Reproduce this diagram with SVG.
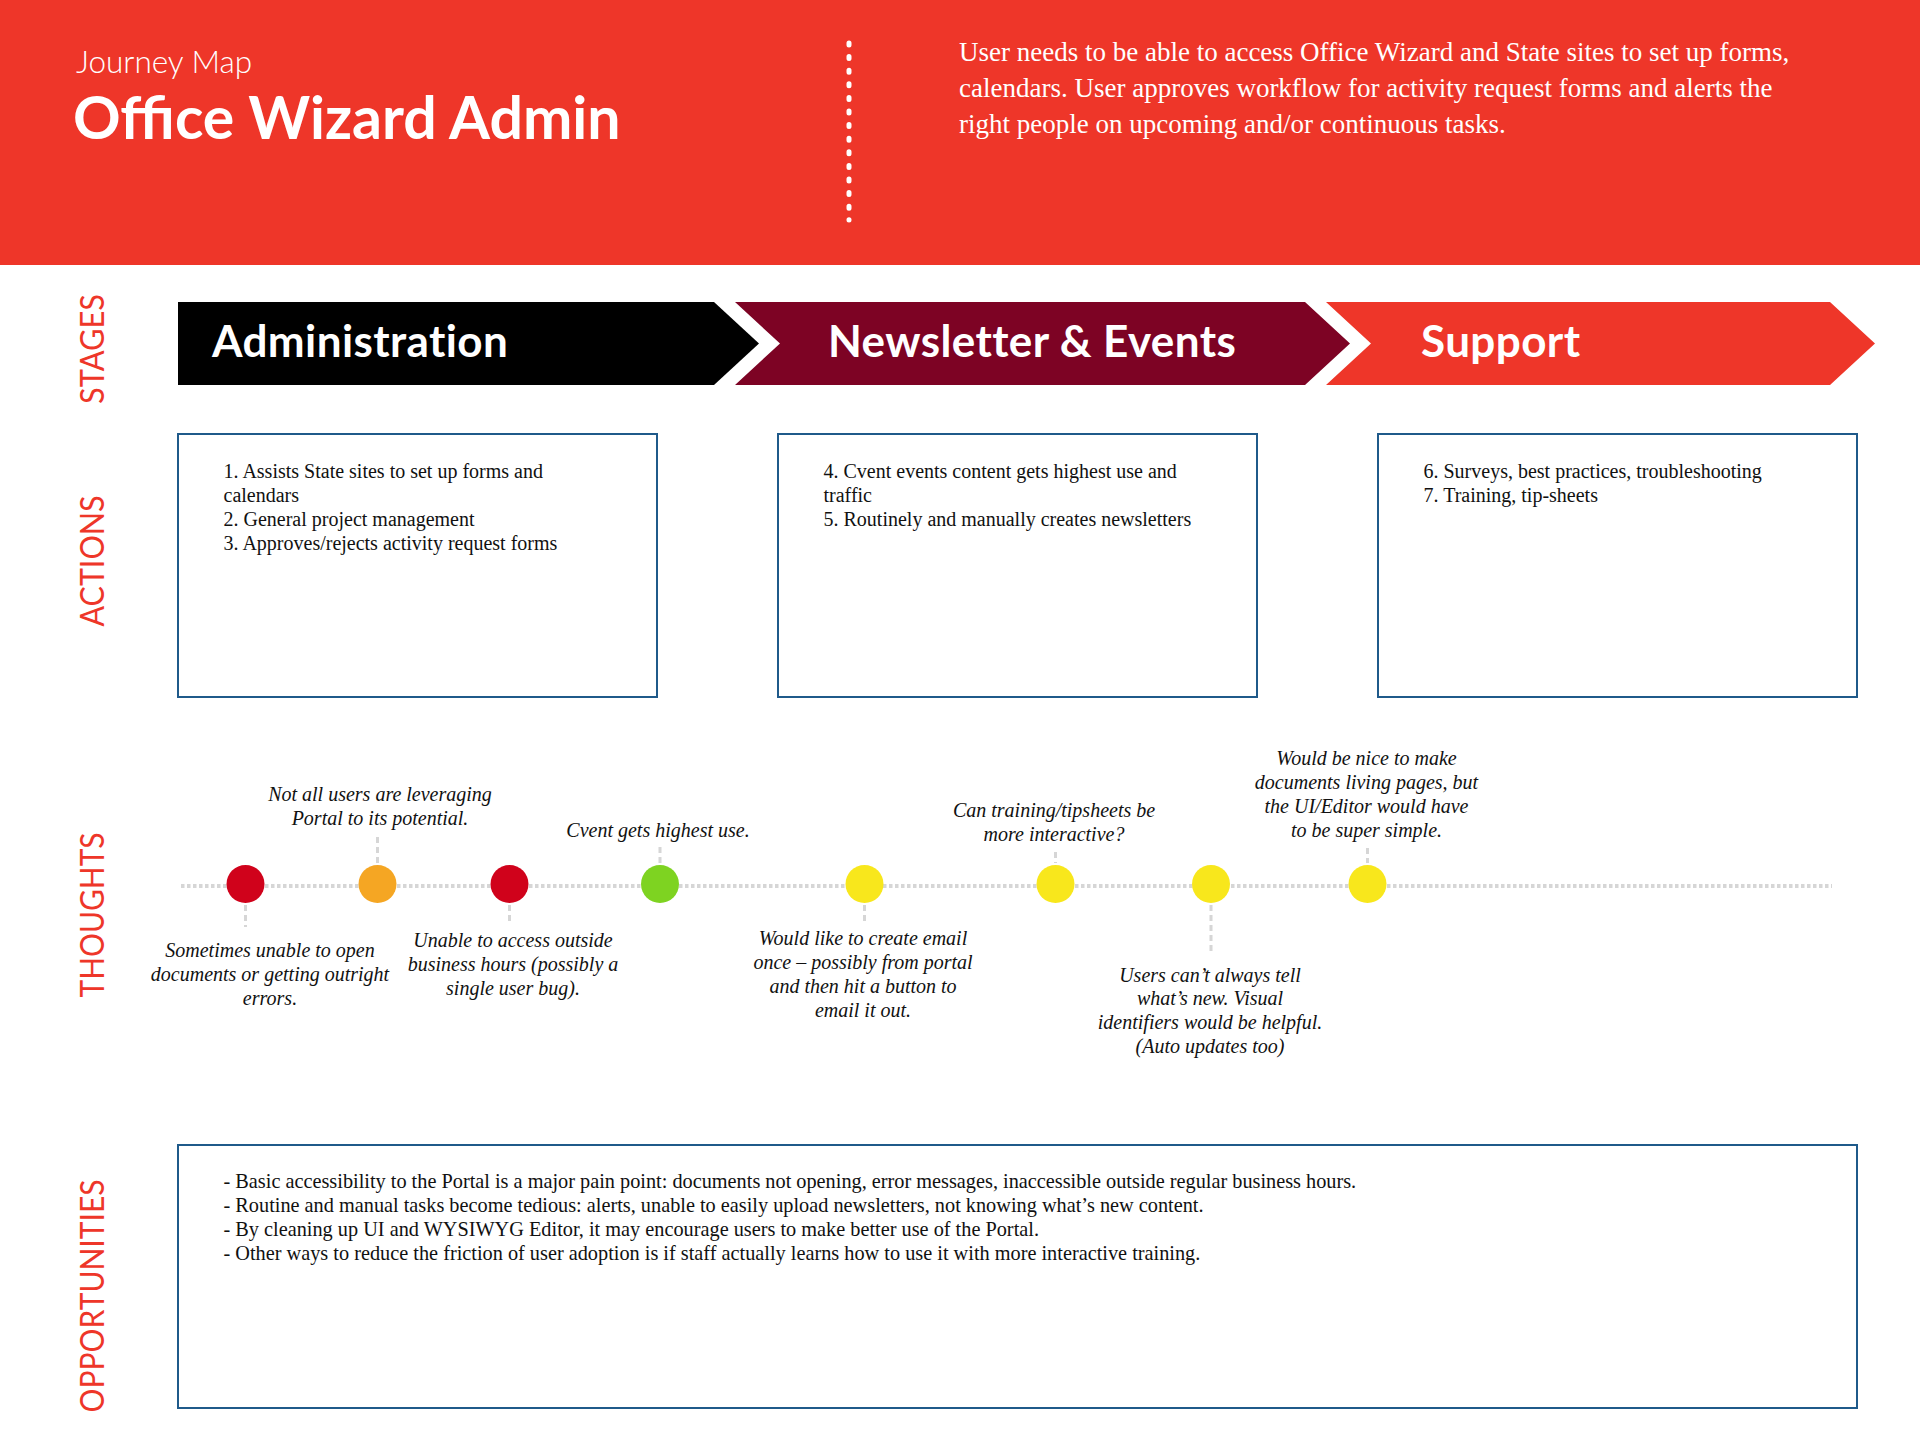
<svg xmlns="http://www.w3.org/2000/svg" width="1920" height="1440" viewBox="0 0 1920 1440">
<style>
.lbl{font-family:Lato,"Open Sans",sans-serif;font-weight:400;font-size:33px;fill:#EE3629;}
.stage{font-family:Lato,"Open Sans",sans-serif;font-weight:700;font-size:44px;letter-spacing:0.4px;fill:#fff;}
.box{fill:#fff;stroke:#1F5A8A;stroke-width:2;}
.bt{font-family:"Liberation Serif",serif;font-size:20px;fill:#111;}
.ot{font-family:"Liberation Serif",serif;font-size:20.3px;fill:#111;}
.th{font-family:"Liberation Serif",serif;font-style:italic;font-size:20px;fill:#111;text-anchor:middle;}
.conn{stroke:#D6D6D6;stroke-width:3;stroke-dasharray:6 4;fill:none;}
.desc{font-family:"Liberation Serif",serif;font-size:27px;fill:#fff;}
</style>
<rect x="0" y="0" width="1920" height="265" fill="#EE3629"/>
<g id="header">
<text x="76" y="73" font-family="Lato,'Open Sans',sans-serif" font-weight="300" font-size="31.5" fill="#fff">Journey Map</text>
<text x="73" y="139" font-family="Lato,'Open Sans',sans-serif" font-weight="700" font-size="59" fill="#fff">Office Wizard Admin</text>
<line x1="849" y1="43" x2="849" y2="220" stroke="#fff" stroke-width="5" stroke-linecap="round" stroke-dasharray="2 11.6"/>
<text class="desc" x="959" y="61">User needs to be able to access Office Wizard and State sites to set up forms,</text>
<text class="desc" x="959" y="97">calendars. User approves workflow for activity request forms and alerts the</text>
<text class="desc" x="959" y="133">right people on upcoming and/or continuous tasks.</text>
</g>
<g id="row-labels">
<text class="lbl" transform="translate(104,349) rotate(-90)" text-anchor="middle" textLength="110" lengthAdjust="spacingAndGlyphs">STAGES</text>
<text class="lbl" transform="translate(104,561) rotate(-90)" text-anchor="middle" textLength="131" lengthAdjust="spacingAndGlyphs">ACTIONS</text>
<text class="lbl" transform="translate(104,915) rotate(-90)" text-anchor="middle" textLength="165" lengthAdjust="spacingAndGlyphs">THOUGHTS</text>
<text class="lbl" transform="translate(104,1296) rotate(-90)" text-anchor="middle" textLength="233" lengthAdjust="spacingAndGlyphs">OPPORTUNITIES</text>
</g>
<g id="stage-administration">
<path d="M178,302 H714 L759,343.5 L714,385 H178 Z" fill="#000"/>
<text class="stage" x="212" y="357">Administration</text>
</g>
<g id="stage-newsletter">
<path d="M735,302 H1305 L1350,343.5 L1305,385 H735 L780,343.5 Z" fill="#7D0324"/>
<text class="stage" x="828" y="357">Newsletter &amp; Events</text>
</g>
<g id="stage-support">
<path d="M1326,302 H1830 L1875,343.5 L1830,385 H1326 L1371,343.5 Z" fill="#EE3629"/>
<text class="stage" x="1421" y="357">Support</text>
</g>
<g id="actions-administration">
<rect class="box" x="178" y="434" width="479" height="263"/>
<text class="bt" x="223.5" y="478">1. Assists State sites to set up forms and</text>
<text class="bt" x="223.5" y="502">calendars</text>
<text class="bt" x="223.5" y="526">2. General project management</text>
<text class="bt" x="223.5" y="550">3. Approves/rejects activity request forms</text>
</g>
<g id="actions-newsletter">
<rect class="box" x="778" y="434" width="479" height="263"/>
<text class="bt" x="823.5" y="478">4. Cvent events content gets highest use and</text>
<text class="bt" x="823.5" y="502">traffic</text>
<text class="bt" x="823.5" y="526">5. Routinely and manually creates newsletters</text>
</g>
<g id="actions-support">
<rect class="box" x="1378" y="434" width="479" height="263"/>
<text class="bt" x="1423.5" y="478">6. Surveys, best practices, troubleshooting</text>
<text class="bt" x="1423.5" y="502">7. Training, tip-sheets</text>
</g>
<g id="connectors">
<line x1="181" y1="886" x2="1832" y2="886" stroke="#D6D6D6" stroke-width="4" stroke-dasharray="3.5 2.5"/>
<line class="conn" x1="245.5" y1="905" x2="245.5" y2="927"/>
<line class="conn" x1="377.5" y1="837" x2="377.5" y2="863"/>
<line class="conn" x1="509.5" y1="905" x2="509.5" y2="923"/>
<line class="conn" x1="660" y1="847" x2="660" y2="863"/>
<line class="conn" x1="864.5" y1="905" x2="864.5" y2="923"/>
<line class="conn" x1="1055.5" y1="852" x2="1055.5" y2="863"/>
<line class="conn" x1="1211" y1="905" x2="1211" y2="955"/>
<line class="conn" x1="1367.5" y1="848" x2="1367.5" y2="863"/>
</g>
<g id="thought-1">
<circle cx="245.5" cy="884" r="19" fill="#D0021B"/>
<text class="th" x="270" y="957">Sometimes unable to open</text>
<text class="th" x="270" y="981">documents or getting outright</text>
<text class="th" x="270" y="1005">errors.</text>
</g>
<g id="thought-2">
<circle cx="377.5" cy="884" r="19" fill="#F5A623"/>
<text class="th" x="380" y="801">Not all users are leveraging</text>
<text class="th" x="380" y="825">Portal to its potential.</text>
</g>
<g id="thought-3">
<circle cx="509.5" cy="884" r="19" fill="#D0021B"/>
<text class="th" x="513" y="947">Unable to access outside</text>
<text class="th" x="513" y="971">business hours (possibly a</text>
<text class="th" x="513" y="995">single user bug).</text>
</g>
<g id="thought-4">
<circle cx="660" cy="884" r="19" fill="#7ED321"/>
<text class="th" x="658" y="837">Cvent gets highest use.</text>
</g>
<g id="thought-5">
<circle cx="864.5" cy="884" r="19" fill="#F8E71C"/>
<text class="th" x="863" y="945">Would like to create email</text>
<text class="th" x="863" y="969">once – possibly from portal</text>
<text class="th" x="863" y="993">and then hit a button to</text>
<text class="th" x="863" y="1017">email it out.</text>
</g>
<g id="thought-6">
<circle cx="1055.5" cy="884" r="19" fill="#F8E71C"/>
<text class="th" x="1054" y="817">Can training/tipsheets be</text>
<text class="th" x="1054" y="841">more interactive?</text>
</g>
<g id="thought-7">
<circle cx="1211" cy="884" r="19" fill="#F8E71C"/>
<text class="th" x="1210" y="982">Users can’t always tell</text>
<text class="th" x="1210" y="1005">what’s new. Visual</text>
<text class="th" x="1210" y="1029">identifiers would be helpful.</text>
<text class="th" x="1210" y="1053">(Auto updates too)</text>
</g>
<g id="thought-8">
<circle cx="1367.5" cy="884" r="19" fill="#F8E71C"/>
<text class="th" x="1366.5" y="765">Would be nice to make</text>
<text class="th" x="1366.5" y="789">documents living pages, but</text>
<text class="th" x="1366.5" y="813">the UI/Editor would have</text>
<text class="th" x="1366.5" y="837">to be super simple.</text>
</g>
<g id="opportunities">
<rect class="box" x="178" y="1145" width="1679" height="263"/>
<text class="ot" x="223.5" y="1188">- Basic accessibility to the Portal is a major pain point: documents not opening, error messages, inaccessible outside regular business hours.</text>
<text class="ot" x="223.5" y="1212">- Routine and manual tasks become tedious: alerts, unable to easily upload newsletters, not knowing what’s new content.</text>
<text class="ot" x="223.5" y="1236">- By cleaning up UI and WYSIWYG Editor, it may encourage users to make better use of the Portal.</text>
<text class="ot" x="223.5" y="1260">- Other ways to reduce the friction of user adoption is if staff actually learns how to use it with more interactive training.</text>
</g>
</svg>
